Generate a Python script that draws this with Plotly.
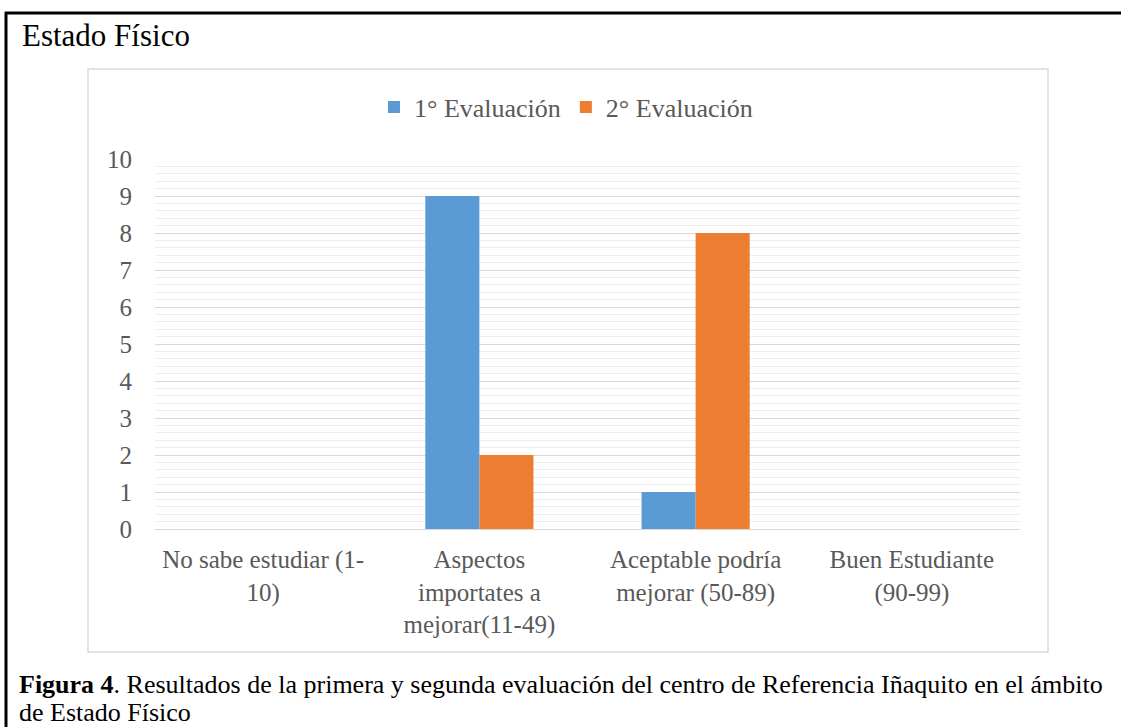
import plotly.graph_objects as go

categories = ["No sabe estudiar (1-10)", "Aspectos importates a mejorar(11-49)",
              "Aceptable podría mejorar (50-89)", "Buen Estudiante (90-99)"]
tick_labels = ["No sabe estudiar (1-<br>10)", "Aspectos<br>importates a<br>mejorar(11-49)",
               "Aceptable podría<br>mejorar (50-89)", "Buen Estudiante<br>(90-99)"]
eval1 = [0, 9, 1, 0]
eval2 = [0, 2, 8, 0]
series_names = ["1° Evaluación", "2° Evaluación"]
colors = ["#5B9BD5", "#ED7D31"]

W, H = 1121, 727
OFF = 0  # body margin removed by post_script
FONT = "Liberation Serif"
GRAY = "#595959"

def px(x):
    return (x - OFF) / W

def py(y):
    return 1 - (y - OFF) / H

fig = go.Figure()
for name, vals, c in zip(series_names, [eval1, eval2], colors):
    fig.add_trace(go.Bar(x=categories, y=vals, name=name, marker_color=c,
                         marker_line_width=0))

fig.update_layout(
    width=W, height=H,
    margin=dict(l=0, r=0, t=0, b=0, autoexpand=False),
    paper_bgcolor="white", plot_bgcolor="white",
    barmode="group", bargap=0.5, bargroupgap=0,
    font=dict(family=FONT, color=GRAY, size=25),
    showlegend=True,
    legend=dict(orientation="h", x=px(566), y=py(107), xanchor="center", yanchor="middle",
                font=dict(size=26, color=GRAY, family=FONT), itemwidth=30,
                bgcolor="rgba(0,0,0,0)"),
    xaxis=dict(domain=[px(155), px(1020)], tickmode="array", tickvals=categories,
               ticktext=tick_labels, showgrid=False, showline=False, zeroline=False,
               ticks="", tickfont=dict(size=25, color=GRAY, family=FONT), tickangle=0,
               automargin=False, ticklabelstandoff=13),
    yaxis=dict(domain=[py(529), py(159)], range=[0, 10], dtick=1, tick0=0,
               showgrid=True, gridcolor="#d9d9d9", gridwidth=1,
               zeroline=True, zerolinecolor="#d9d9d9", zerolinewidth=1,
               showline=False, ticks="", tickfont=dict(size=25, color=GRAY, family=FONT),
               ticklabelstandoff=22, automargin=False,
               minor=dict(dtick=0.2, showgrid=True, gridcolor="#eeeeee", gridwidth=1)),
)

shapes = [
    dict(type="rect", xref="paper", yref="paper", x0=px(88), x1=px(1048), y0=py(652), y1=py(69),
         line=dict(color="#d9d9d9", width=1.5), fillcolor="rgba(0,0,0,0)", layer="below"),
    dict(type="line", xref="paper", yref="paper", x0=px(5), x1=px(1130), y0=py(13), y1=py(13),
         line=dict(color="black", width=3)),
    dict(type="line", xref="paper", yref="paper", x0=px(6), x1=px(6), y0=py(740), y1=py(12),
         line=dict(color="black", width=3)),
]
fig.update_layout(shapes=shapes)

fig.add_annotation(text="Estado Físico", xref="paper", yref="paper", x=px(20), y=py(36),
                   xanchor="left", yanchor="middle", showarrow=False,
                   font=dict(size=31, color="black", family=FONT))
fig.add_annotation(text="<b>Figura 4</b>. Resultados de la primera y segunda evaluación del centro de Referencia Iñaquito en el ámbito",
                   xref="paper", yref="paper", x=px(17), y=py(684), xanchor="left", yanchor="middle",
                   showarrow=False, font=dict(size=26, color="black", family=FONT))
fig.add_annotation(text="de Estado Físico",
                   xref="paper", yref="paper", x=px(17), y=py(712), xanchor="left", yanchor="middle",
                   showarrow=False, font=dict(size=26, color="black", family=FONT))

fig.write_html("out.html", config={"displayModeBar": False},
               post_script="document.body.style.margin='0';document.documentElement.style.overflow='hidden';")
